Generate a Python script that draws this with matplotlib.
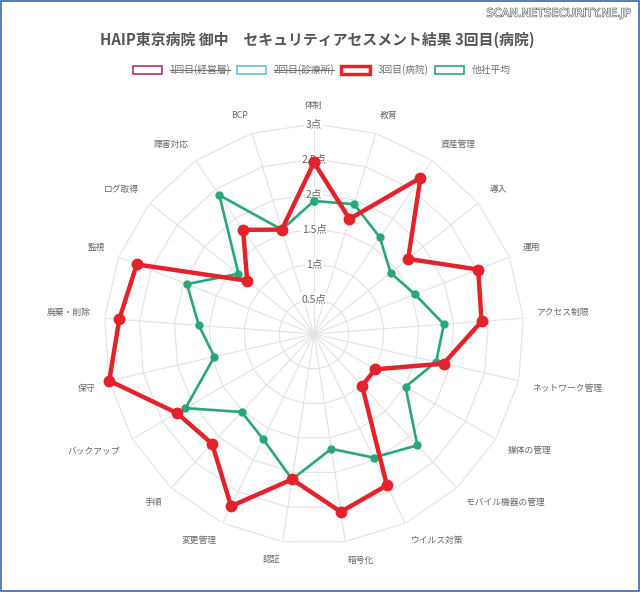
import matplotlib
matplotlib.use('Agg')
import matplotlib.pyplot as plt
import matplotlib.patheffects as pe
from matplotlib.patches import Patch, Rectangle
from matplotlib.lines import Line2D
import numpy as np

plt.rcParams['font.family'] = ['Noto Sans CJK JP', 'DejaVu Sans']

categories = ['体制', '教育', '資産管理', '導入', '運用', 'アクセス制限', 'ネットワーク管理',
              '媒体の管理', 'モバイル機器の管理', 'ウイルス対策', '暗号化', '認証', '変更管理',
              '手順', 'バックアップ', '保守', '廃棄・削除', '監視', 'ログ取得', '障害対応', 'BCP']
hospital_3rd = [2.45, 1.72, 2.70, 1.72, 2.52, 2.40, 1.90, 1.01, 1.01, 2.40, 2.57,
                2.10, 2.73, 2.14, 2.26, 3.00, 2.79, 2.72, 1.22, 1.80, 1.56]
others_avg = [1.90, 1.94, 1.67, 1.40, 1.55, 1.86, 1.79, 1.51, 2.17, 1.96, 1.66,
              2.10, 1.67, 1.52, 2.12, 1.46, 1.65, 1.95, 1.38, 2.40, 1.56]
ticks = [0.5, 1, 1.5, 2, 2.5, 3]
tick_labels = ['0.5点', '1点', '1.5点', '2点', '2.5点', '3点']
legend_labels = ['1回目(経営層)', '2回目(診療所)', '3回目(病院)', '他社平均']
legend_colors = ['#b4317f', '#62bfee', '#e2232b', '#2aa67a']

red = '#e2232b'
green = '#2aa67a'
grid_c = '#e2e2e2'
text_c = '#666666'

n = len(categories)
theta = np.arange(n) * 2 * np.pi / n
theta_closed = np.append(theta, theta[0])

fig = plt.figure(figsize=(6.4, 5.92), dpi=100)
ax = fig.add_axes([0.1625, 0.0811, 0.65625, 0.7095], projection='polar')
ax.set_theta_zero_location('N')
ax.set_theta_direction(-1)
ax.set_ylim(0, 3)
ax.grid(False)
ax.set_xticks([])
ax.set_yticks([])
ax.spines['polar'].set_visible(False)
ax.patch.set_alpha(0)

# polygon grid and spokes
for t in ticks:
    ax.plot(theta_closed, [t] * (n + 1), color=grid_c, lw=0.8, zorder=1)
for th in theta:
    ax.plot([th, th], [0, 3], color=grid_c, lw=0.8, zorder=1)

# radial tick labels
for t, lab in zip(ticks, tick_labels):
    ax.text(0, t, lab, ha='center', va='center', fontsize=7.5, color=text_c, zorder=2,
            bbox=dict(boxstyle='square,pad=0.1', fc='white', ec='none'))

# category labels
for th, lab in zip(theta, categories):
    deg = np.degrees(th)
    if abs(deg) < 1 or abs(deg - 180) < 1:
        ha = 'center'
    elif deg < 180:
        ha = 'left'
    else:
        ha = 'right'
    if abs(deg - 90) < 1 or abs(deg - 270) < 1:
        va = 'center'
    elif deg < 90 or deg > 270:
        va = 'bottom'
    else:
        va = 'top'
    ax.text(th, 3.2, lab, ha=ha, va=va, fontsize=6.3, color=text_c, clip_on=False)

ax.plot(theta_closed, np.append(others_avg, others_avg[0]), color=green, lw=1.9,
        marker='o', ms=5, zorder=3, clip_on=False)
ax.plot(theta_closed, np.append(hospital_3rd, hospital_3rd[0]), color=red, lw=3.2,
        marker='o', ms=7.5, zorder=4, clip_on=False)

fig.text(0.496, 0.932, 'HAIP東京病院 御中　セキュリティアセスメント結果 3回目(病院)',
         ha='center', va='center', fontsize=10.7, fontweight='bold', color='#555555')

handles = [Patch(facecolor='white', edgecolor=c, lw=(2.5 if i == 2 else 1.2))
           for i, c in enumerate(legend_colors)]
leg = fig.legend(handles, legend_labels, loc='center', bbox_to_anchor=(0.503, 0.882),
                 ncol=4, frameon=False, fontsize=7, handlelength=3.0, handleheight=0.95,
                 handletextpad=0.75, columnspacing=0.7, labelcolor='#707070')

# strike through hidden series
fig.canvas.draw()
for txt in leg.get_texts()[:2]:
    bb = txt.get_window_extent()
    y = (bb.y0 + bb.y1) / 2
    fig.add_artist(Line2D([bb.x0, bb.x1], [y, y], transform=None, color='#707070', lw=0.8))

fig.text(0.985, 0.977, 'SCAN.NETSECURITY.NE.JP', ha='right', va='center', fontsize=8.2,
         color='white', family='DejaVu Sans',
         path_effects=[pe.withStroke(linewidth=0.8, foreground='#555555')])

fig.add_artist(Rectangle((0.001, 0.001), 0.998, 0.997, transform=fig.transFigure,
                         fill=False, ec='#4d72b8', lw=1.3))

fig.savefig('out.png', dpi=100)
